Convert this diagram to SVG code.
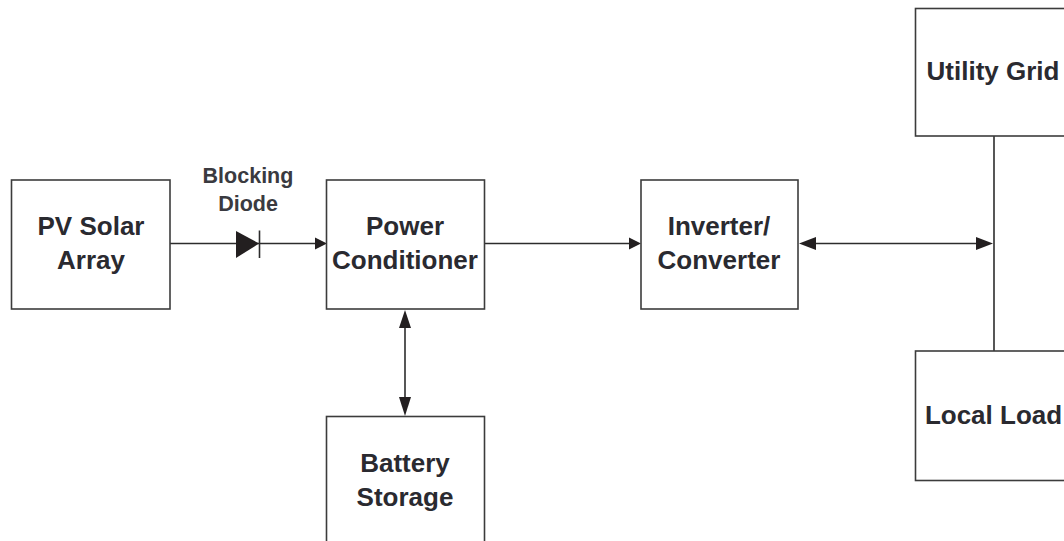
<svg xmlns="http://www.w3.org/2000/svg" width="1064" height="541" viewBox="0 0 1064 541">
<style>
.box{fill:#fff;stroke:#3c3c3c;stroke-width:1.6}
.ln{fill:none;stroke:#2c2c2c;stroke-width:1.6}
.ah{fill:#231f20;stroke:none}
text{font-family:"Liberation Sans",Arial,sans-serif;font-weight:700;fill:#2a2a30;text-anchor:middle;font-size:26px}
.sm{font-size:21.500px;fill:#3a3a40}
</style>
<rect width="1064" height="541" fill="#fff"/>
<g id="connectors">
<path class="ln" d="M170 243.500H318"/>
<path class="ln" d="M259.500 230.500V258"/>
<path class="ah" d="M236 231L259 243.500L236 258Z"/>
<path class="ah" d="M327 243.500L315 237.500V249.500Z"/>
<path class="ln" d="M485 243.500H632"/>
<path class="ah" d="M641 243.500L629 237.500V249.500Z"/>
<path class="ln" d="M810 243.500H980"/>
<path class="ah" d="M799 243.500L816 237V250Z"/>
<path class="ah" d="M993 243.500L976 237V250Z"/>
<path class="ln" d="M994 136V351"/>
<path class="ln" d="M405 322V405"/>
<path class="ah" d="M405 310L399 328H411Z"/>
<path class="ah" d="M405 416L399 397H411Z"/>
</g>
<g id="pv-solar-array"><rect class="box" x="11.500" y="180" width="158.500" height="129"/><text x="91" y="235">PV Solar</text><text x="91" y="269">Array</text></g>
<g id="blocking-diode-label"><text class="sm" x="248" y="183">Blocking</text><text class="sm" x="248" y="211">Diode</text></g>
<g id="power-conditioner"><rect class="box" x="326.500" y="180" width="158" height="129"/><text x="405" y="235">Power</text><text x="405" y="269">Conditioner</text></g>
<g id="inverter-converter"><rect class="box" x="641" y="180" width="157" height="129"/><text x="719" y="235">Inverter/</text><text x="719" y="269">Converter</text></g>
<g id="battery-storage"><rect class="box" x="326.500" y="416.500" width="158" height="135"/><text x="405" y="472">Battery</text><text x="405" y="506">Storage</text></g>
<g id="utility-grid"><rect class="box" x="915.500" y="8.500" width="160" height="127.500"/><text x="993" y="80">Utility Grid</text></g>
<g id="local-load"><rect class="box" x="915.500" y="351" width="160" height="129.500"/><text x="993.500" y="424">Local Load</text></g>
</svg>
